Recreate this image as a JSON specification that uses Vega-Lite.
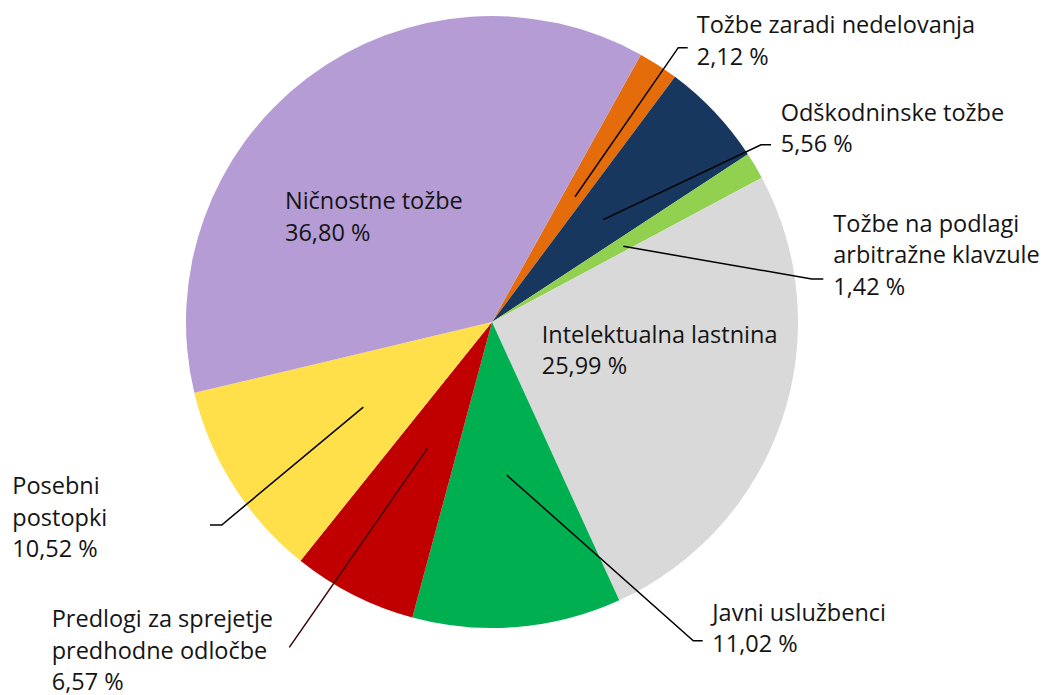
{
  "$schema": "https://vega.github.io/schema/vega-lite/v6.json",
  "width": 1046,
  "height": 695,
  "padding": 0,
  "autosize": {"type": "fit", "contains": "padding"},
  "background": "white",
  "config": {"view": {"stroke": null}},
  "datasets": {
    "slices": [
      {"category": "Tožbe zaradi nedelovanja", "share": 2.12, "rank": 1},
      {"category": "Odškodninske tožbe", "share": 5.56, "rank": 2},
      {"category": "Tožbe na podlagi arbitražne klavzule", "share": 1.42, "rank": 3},
      {"category": "Intelektualna lastnina", "share": 25.99, "rank": 4},
      {"category": "Javni uslužbenci", "share": 11.02, "rank": 5},
      {"category": "Predlogi za sprejetje predhodne odločbe", "share": 6.57, "rank": 6},
      {"category": "Posebni postopki", "share": 10.52, "rank": 7},
      {"category": "Ničnostne tožbe", "share": 36.80, "rank": 8}
    ],
    "leaders": [
      {"id": "nedelovanja", "seq": 1, "u": 0.2712, "v": 0.4101},
      {"id": "nedelovanja", "seq": 2, "u": 0.6088, "v": 0.8980},
      {"id": "nedelovanja", "seq": 3, "u": 0.6395, "v": 0.8980},
      {"id": "odskodninske", "seq": 1, "u": 0.3637, "v": 0.3350},
      {"id": "odskodninske", "seq": 2, "u": 0.8791, "v": 0.5801},
      {"id": "odskodninske", "seq": 3, "u": 0.9118, "v": 0.5801},
      {"id": "arbitrazne", "seq": 1, "u": 0.4291, "v": 0.2477},
      {"id": "arbitrazne", "seq": 2, "u": 1.0448, "v": 0.1412},
      {"id": "arbitrazne", "seq": 3, "u": 1.0827, "v": 0.1412},
      {"id": "javni", "seq": 1, "u": 0.0480, "v": -0.5007},
      {"id": "javni", "seq": 2, "u": 0.6578, "v": -1.0431},
      {"id": "javni", "seq": 3, "u": 0.6886, "v": -1.0431},
      {"id": "posebni", "seq": 1, "u": -0.4206, "v": -0.2784},
      {"id": "posebni", "seq": 2, "u": -0.8833, "v": -0.6641},
      {"id": "posebni", "seq": 3, "u": -0.9216, "v": -0.6641},
      {"id": "predlogi", "seq": 1, "u": -0.2114, "v": -0.4144},
      {"id": "predlogi", "seq": 2, "u": -0.6624, "v": -1.0647}
    ],
    "labels": [
      {"label": "Tožbe zaradi nedelovanja\n2,12 %", "u": 0.6690, "v": 0.9451},
      {"label": "Odškodninske tožbe\n5,56 %", "u": 0.9435, "v": 0.6595},
      {"label": "Tožbe na podlagi\narbitražne klavzule\n1,42 %", "u": 1.1154, "v": 0.2948},
      {"label": "Intelektualna lastnina\n25,99 %", "u": 0.1624, "v": -0.0680},
      {"label": "Ničnostne tožbe\n36,80 %", "u": -0.6765, "v": 0.3699},
      {"label": "Posebni\npostopki\n10,52 %", "u": -1.5676, "v": -0.5637},
      {"label": "Predlogi za sprejetje\npredhodne odločbe\n6,57 %", "u": -1.4389, "v": -0.9993},
      {"label": "Javni uslužbenci\n11,02 %", "u": 0.7199, "v": -0.9778}
    ]
  },
  "layer": [
    {
      "data": {"name": "slices"},
      "mark": {"type": "arc", "outerRadius": 306, "stroke": null},
      "encoding": {
        "x": {"datum": 0, "type": "quantitative", "scale": {"domain": [-1.60784, 1.81046], "nice": false, "zero": false}, "axis": null},
        "y": {"datum": 0, "type": "quantitative", "scale": {"domain": [-1.21732, 1.05392], "nice": false, "zero": false}, "axis": null},
        "theta": {"field": "share", "type": "quantitative", "stack": true, "scale": {"domain": [0, 100], "range": [0.5079, 6.7911]}},
        "order": {"field": "rank", "type": "quantitative"},
        "color": {
          "field": "category",
          "type": "nominal",
          "legend": null,
          "scale": {
            "domain": ["Tožbe zaradi nedelovanja", "Odškodninske tožbe", "Tožbe na podlagi arbitražne klavzule", "Intelektualna lastnina", "Javni uslužbenci", "Predlogi za sprejetje predhodne odločbe", "Posebni postopki", "Ničnostne tožbe"],
            "range": ["#E46C0A", "#17375E", "#92D050", "#D9D9D9", "#00B050", "#C00000", "#FFE04B", "#B59CD4"]
          }
        }
      }
    },
    {
      "data": {"name": "leaders"},
      "mark": {"type": "line", "strokeWidth": 1.5, "interpolate": "linear"},
      "encoding": {
        "x": {"field": "u", "type": "quantitative", "scale": {"domain": [-1.60784, 1.81046], "nice": false, "zero": false}, "axis": null},
        "y": {"field": "v", "type": "quantitative", "scale": {"domain": [-1.21732, 1.05392], "nice": false, "zero": false}, "axis": null},
        "detail": {"field": "id", "type": "nominal"},
        "order": {"field": "seq", "type": "quantitative"},
        "stroke": {
          "field": "id",
          "type": "nominal",
          "legend": null,
          "scale": {
            "domain": ["nedelovanja", "odskodninske", "arbitrazne", "javni", "posebni", "predlogi"],
            "range": ["#000000", "#000000", "#000000", "#000000", "#000000", "#3A0505"]
          }
        }
      }
    },
    {
      "data": {"name": "labels"},
      "mark": {"type": "text", "align": "left", "baseline": "alphabetic", "font": "Open Sans", "fontSize": 23.5, "lineHeight": 31.5, "lineBreak": "\n", "color": "#141414"},
      "encoding": {
        "x": {"field": "u", "type": "quantitative", "scale": {"domain": [-1.60784, 1.81046], "nice": false, "zero": false}, "axis": null},
        "y": {"field": "v", "type": "quantitative", "scale": {"domain": [-1.21732, 1.05392], "nice": false, "zero": false}, "axis": null},
        "text": {"field": "label", "type": "nominal"}
      }
    }
  ]
}
